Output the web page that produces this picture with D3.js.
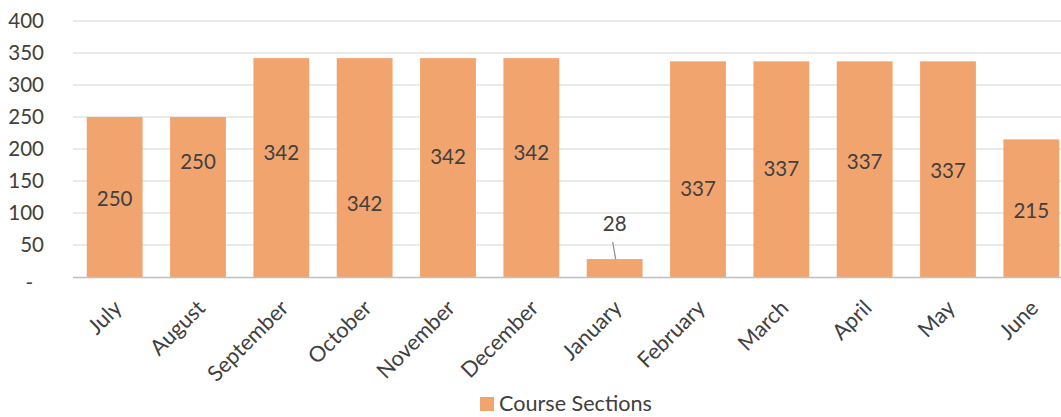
<!DOCTYPE html>
<html>
<head>
<meta charset="utf-8">
<script src="https://cdn.jsdelivr.net/npm/d3@7"></script>
<style>
  html, body { margin: 0; padding: 0; background: #fff; }
  svg { display: block; }
  text { font-family: Lato, "Open Sans", sans-serif; fill: #404040; }
</style>
</head>
<body>
<svg id="chart" width="1061" height="417"></svg>
<script>
// ---- data ----
const months = ["July","August","September","October","November","December","January","February","March","April","May","June"];
const courseSections = [250, 250, 342, 342, 342, 342, 28, 337, 337, 337, 337, 215];
const yTicks = [0, 50, 100, 150, 200, 250, 300, 350, 400];
const seriesName = "Course Sections";
// where each data label sits, in value units (as manually placed in the original)
const labelAt = [122, 181, 194, 114, 187.5, 194, 83, 137.5, 169, 181, 166, 103];

// ---- layout ----
const W = 1061, H = 417;
const plot = { left: 73, right: 1073, top: 21, bottom: 277 };
const barColor = "#F2A46E";

const svg = d3.select("#chart");

const x = d3.scaleBand().domain(months).range([plot.left, plot.right]).paddingInner(0.33).paddingOuter(0.165);
const y = d3.scaleLinear().domain([0, 400]).range([plot.bottom, plot.top]);

// gridlines
svg.append("g").selectAll("line").data(yTicks.filter(d => d > 0)).join("line")
  .attr("x1", plot.left).attr("x2", W)
  .attr("y1", d => y(d)).attr("y2", d => y(d))
  .attr("stroke", "#e3e3e3").attr("stroke-width", 1.3);

// y axis labels
const yAxis = svg.append("g").attr("transform", `translate(44,0)`)
  .call(d3.axisLeft(y).tickValues(yTicks).tickSize(0).tickPadding(0)
    .tickFormat(d => d === 0 ? "-" : d3.format("d")(d)));
yAxis.select(".domain").remove();
yAxis.selectAll("text").style("font-size", "20.5px").attr("fill", "#404040").attr("font-family", "Lato, sans-serif");
yAxis.selectAll(".tick").filter(d => d === 0).select("text").attr("dx", -11).attr("dy", "0.6em");

// bars
svg.append("g").selectAll("rect").data(courseSections).join("rect")
  .attr("x", (d, i) => x(months[i]))
  .attr("width", x.bandwidth())
  .attr("y", d => y(d))
  .attr("height", d => y(0) - y(d))
  .attr("fill", barColor);

// x axis baseline
svg.append("line").attr("x1", plot.left).attr("x2", W)
  .attr("y1", plot.bottom + 0.5).attr("y2", plot.bottom + 0.5)
  .attr("stroke", "#bfbfbf").attr("stroke-width", 1.5);

// data labels
const lbl = svg.append("g");
lbl.selectAll("text").data(courseSections).join("text")
  .attr("x", (d, i) => x(months[i]) + x.bandwidth() / 2)
  .attr("y", (d, i) => y(labelAt[i]))
  .attr("dy", "0.36em")
  .attr("text-anchor", "middle")
  .style("font-size", "20.5px")
  .text(d => d);

// leader line for labels placed above a short bar
courseSections.forEach((d, i) => {
  if (y(labelAt[i]) < y(d) - 10) {
    const cx = x(months[i]) + x.bandwidth() / 2;
    svg.append("line")
      .attr("x1", cx - 2).attr("y1", y(labelAt[i]) + 18)
      .attr("x2", cx + 1).attr("y2", y(d))
      .attr("stroke", "#8c8c8c").attr("stroke-width", 1.2);
  }
});

// x axis labels
const xAxis = svg.append("g").attr("transform", `translate(0,${plot.bottom})`)
  .call(d3.axisBottom(x).tickSize(0).tickPadding(0));
xAxis.select(".domain").remove();
xAxis.selectAll(".tick text")
  .attr("text-anchor", "end")
  .attr("transform", "translate(3,27) rotate(-45)")
  .attr("dy", "0.35em")
  .attr("y", 0)
  .style("font-size", "21.7px")
  .attr("fill", "#404040")
  .attr("font-family", "Lato, sans-serif");

// legend
const lg = svg.append("g");
lg.append("rect").attr("x", 480).attr("y", 397).attr("width", 14).attr("height", 14).attr("fill", barColor);
lg.append("text").attr("x", 499).attr("y", 411).style("font-size", "21.6px").text(seriesName);
</script>
</body>
</html>
